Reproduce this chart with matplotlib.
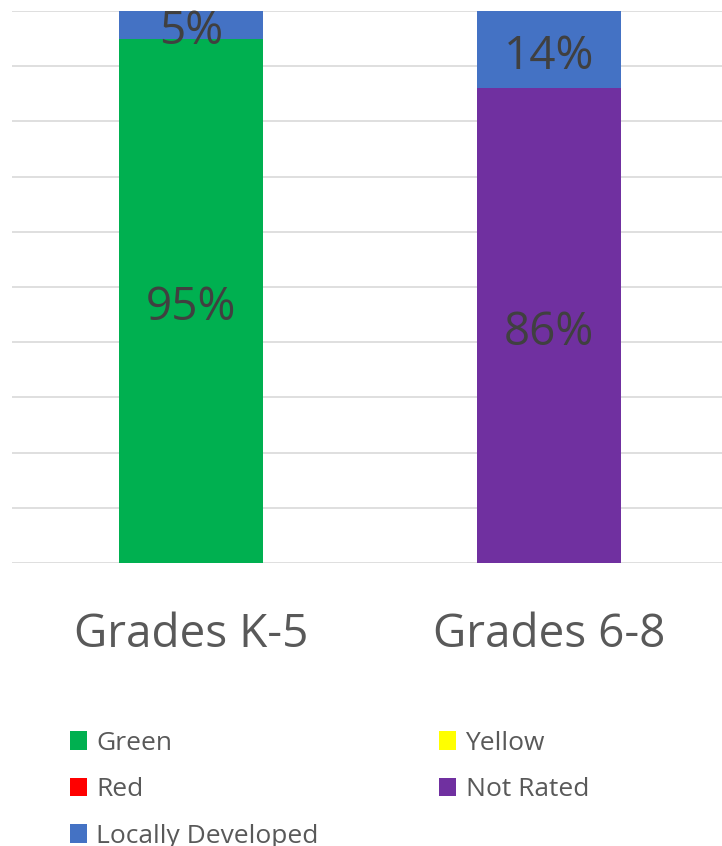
import matplotlib.pyplot as plt
import numpy as np

plt.rcParams["font.family"] = ["Open Sans", "DejaVu Sans"]

categories = ["Grades K-5", "Grades 6-8"]
series_names = ["Green", "Yellow", "Red", "Not Rated", "Locally Developed"]
green = [95, 0]
yellow = [0, 0]
red = [0, 0]
not_rated = [0, 86]
locally_developed = [5, 14]
colors = ["#00B050", "#FFFF00", "#FF0000", "#7030A0", "#4472C4"]

series = [green, yellow, red, not_rated, locally_developed]

fig = plt.figure(figsize=(7.22, 8.46), dpi=100)
ax = fig.add_axes([12 / 722, (846 - 563) / 846, 1 - 12 / 722, (563 - 11) / 846])

x = np.arange(len(categories))
bottom = np.zeros(len(categories))
handles = {}
for name, vals, col in zip(series_names, series, colors):
    vals = np.array(vals, dtype=float)
    bars = ax.bar(x, vals, width=0.402, bottom=bottom, color=col, label=name, zorder=2)
    handles[name] = bars
    for xi, v, b in zip(x, vals, bottom):
        if v > 0:
            ax.annotate(f"{v:.0f}%", (xi, b + v / 2), xytext=(0, -5), textcoords="offset points",
                        ha="center", va="center", fontsize=33, color="#404040", zorder=3)
    bottom += vals

ax.set_xlim(-0.5, 1.483)
ax.set_ylim(0, 100)
ax.set_yticks(np.arange(0, 101, 10))
ax.yaxis.grid(True, color="#D9D9D9", linewidth=1.2, zorder=0)
ax.tick_params(axis="y", left=False, labelleft=False)
ax.set_xticks(x)
ax.set_xticklabels(categories, fontsize=33, color="#595959")
ax.tick_params(axis="x", length=0, pad=35)
for s in ax.spines.values():
    s.set_visible(False)
ax.set_axisbelow(True)

# column-first fill so rows read Green/Yellow, Red/Not Rated, Locally Developed
order = ["Green", "Red", "Locally Developed", "Yellow", "Not Rated"]
fig.legend([handles[n] for n in order], order, ncol=2, loc="upper left",
           bbox_to_anchor=(46 / 722, 1 - 707 / 846), frameon=False,
           fontsize=19, labelcolor="#595959", handlelength=0.65, handleheight=0.7,
           handletextpad=0.35, labelspacing=0.81, columnspacing=4.57)

fig.savefig("out.png", dpi=100)
